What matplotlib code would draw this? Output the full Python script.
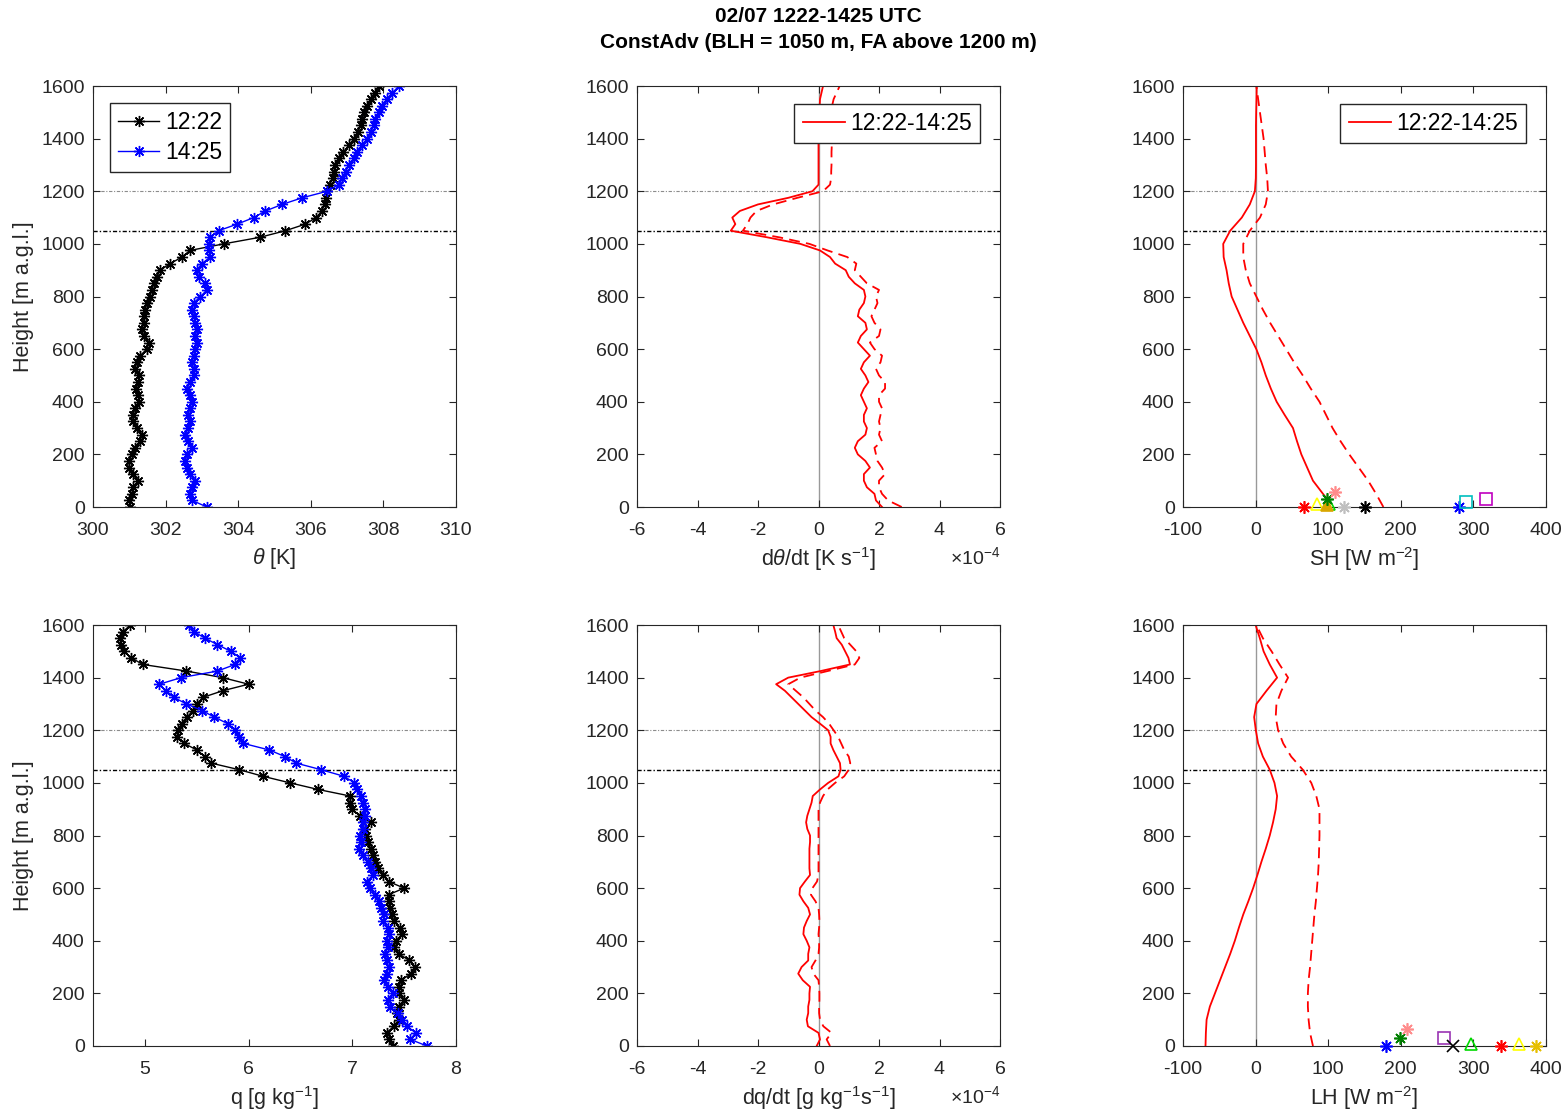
import matplotlib
matplotlib.use("Agg")
import matplotlib.pyplot as plt
import numpy as np

plt.rcParams['font.family'] = ['Liberation Sans', 'DejaVu Sans']
plt.rcParams['mathtext.fontset'] = 'custom'
plt.rcParams['mathtext.rm'] = 'Liberation Sans'
plt.rcParams['mathtext.it'] = 'Liberation Sans:italic'
plt.rcParams['mathtext.bf'] = 'Liberation Sans:bold'
plt.rcParams['axes.unicode_minus'] = False

# ---- data -------------------------------------------------------------
# profile levels [m a.g.l.]
height = [0, 25, 50, 75, 100, 125, 150, 175,
          200, 225, 250, 275, 300, 325, 350, 375,
          400, 425, 450, 475, 500, 525, 550, 575,
          600, 625, 650, 675, 700, 725, 750, 775,
          800, 825, 850, 875, 900, 925, 950, 975,
          1000, 1025, 1050, 1075, 1100, 1125, 1150, 1175,
          1200, 1225, 1250, 1275, 1300, 1325, 1350, 1375,
          1400, 1425, 1450, 1475, 1500, 1525, 1550, 1575,
          1600]

theta_1222 = [301.02, 301.00, 301.07, 301.10, 301.25, 301.10, 301.00, 301.00,
              301.07, 301.16, 301.30, 301.34, 301.20, 301.10, 301.10, 301.16,
              301.28, 301.25, 301.19, 301.25, 301.28, 301.16, 301.20, 301.30,
              301.48, 301.53, 301.40, 301.34, 301.40, 301.40, 301.44, 301.48,
              301.56, 301.62, 301.67, 301.76, 301.85, 302.13, 302.45, 302.67,
              303.60, 304.60, 305.30, 305.85, 306.15, 306.30, 306.38, 306.42,
              306.45, 306.52, 306.60, 306.63, 306.68, 306.78, 306.90, 307.05,
              307.20, 307.30, 307.37, 307.42, 307.47, 307.55, 307.65, 307.76,
              307.88]
theta_1425 = [303.14, 302.73, 302.68, 302.73, 302.82, 302.68, 302.59, 302.54,
              302.59, 302.73, 302.63, 302.54, 302.63, 302.68, 302.63, 302.66,
              302.73, 302.68, 302.59, 302.68, 302.77, 302.77, 302.73, 302.77,
              302.82, 302.86, 302.82, 302.86, 302.82, 302.77, 302.73, 302.77,
              302.96, 303.14, 303.09, 302.91, 302.86, 303.00, 303.23, 303.19,
              303.19, 303.23, 303.46, 303.97, 304.43, 304.75, 305.21, 305.76,
              306.45, 306.78, 306.87, 306.96, 307.05, 307.19, 307.28, 307.42,
              307.56, 307.65, 307.74, 307.78, 307.88, 307.97, 308.11, 308.25,
              308.43]

# dtheta/dt [1e-4 K s-1]
dthdt = [2.10, 1.90, 1.85, 1.60, 1.50, 1.50, 1.70, 1.55,
         1.30, 1.20, 1.30, 1.55, 1.60, 1.50, 1.50, 1.60,
         1.50, 1.40, 1.50, 1.65, 1.55, 1.40, 1.50, 1.70,
         1.50, 1.30, 1.40, 1.60, 1.55, 1.30, 1.35, 1.50,
         1.55, 1.50, 1.20, 1.00, 0.90, 0.55, 0.38, 0.05,
         -0.60, -1.70, -2.90, -2.75, -2.85, -2.60, -2.00, -1.00,
         -0.20, 0.00, 0.00, 0.00, 0.00, 0.00, 0.00, 0.00,
         0.00, 0.00, 0.00, 0.02, 0.03, 0.04, 0.05, 0.10,
         0.15]
dthdt_dash = [2.75, 2.30, 2.10, 2.00, 2.00, 2.20, 2.10, 1.95,
              1.90, 1.85, 2.10, 2.00, 2.05, 2.00, 2.05, 2.10,
              2.00, 2.00, 2.20, 2.20, 2.00, 1.90, 2.05, 2.10,
              1.85, 1.70, 2.00, 2.05, 1.85, 1.75, 1.85, 1.95,
              1.90, 2.00, 1.60, 1.40, 1.20, 1.25, 0.95, 0.30,
              -0.30, -1.30, -2.50, -2.35, -2.25, -2.05, -1.50, -0.70,
              0.15, 0.38, 0.42, 0.42, 0.43, 0.43, 0.43, 0.44,
              0.44, 0.44, 0.45, 0.45, 0.45, 0.45, 0.50, 0.60,
              0.70]

q_1222 = [7.39, 7.35, 7.33, 7.40, 7.45, 7.43, 7.45, 7.50,
          7.45, 7.45, 7.47, 7.57, 7.60, 7.55, 7.45, 7.40,
          7.42, 7.48, 7.46, 7.40, 7.38, 7.36, 7.35, 7.35,
          7.50, 7.35, 7.30, 7.25, 7.22, 7.20, 7.18, 7.15,
          7.13, 7.12, 7.18, 7.07, 7.00, 6.98, 6.98, 6.67,
          6.40, 6.14, 5.91, 5.64, 5.58, 5.50, 5.38, 5.31,
          5.32, 5.36, 5.41, 5.46, 5.50, 5.56, 5.75, 6.00,
          5.75, 5.40, 4.98, 4.87, 4.80, 4.77, 4.76, 4.79,
          4.86]
q_1425 = [7.72, 7.56, 7.61, 7.53, 7.48, 7.44, 7.36, 7.34,
          7.39, 7.34, 7.31, 7.33, 7.35, 7.33, 7.32, 7.34,
          7.33, 7.35, 7.34, 7.30, 7.31, 7.28, 7.26, 7.22,
          7.17, 7.14, 7.20, 7.18, 7.15, 7.10, 7.06, 7.08,
          7.07, 7.10, 7.10, 7.12, 7.12, 7.10, 7.08, 7.05,
          7.02, 6.92, 6.70, 6.46, 6.35, 6.20, 5.95, 5.91,
          5.87, 5.80, 5.67, 5.55, 5.40, 5.28, 5.20, 5.14,
          5.35, 5.70, 5.87, 5.92, 5.83, 5.70, 5.58, 5.47,
          5.43]

# dq/dt [1e-4 g kg-1 s-1]
dqdt = [-0.06, 0.05, 0.00, -0.35, -0.39, -0.34, -0.34, -0.30,
        -0.30, -0.28, -0.52, -0.67, -0.56, -0.34, -0.34, -0.30,
        -0.39, -0.50, -0.48, -0.39, -0.28, -0.34, -0.50, -0.63,
        -0.61, -0.45, -0.28, -0.30, -0.30, -0.30, -0.30, -0.28,
        -0.28, -0.37, -0.41, -0.37, -0.30, -0.23, -0.19, 0.05,
        0.32, 0.66, 0.73, 0.71, 0.60, 0.49, 0.40, 0.40,
        0.32, 0.05, -0.23, -0.45, -0.67, -0.89, -1.11, -1.40,
        -1.00, 0.07, 1.04, 0.99, 0.88, 0.77, 0.60, 0.55,
        0.49]
dqdt_dash = [0.38, 0.27, 0.43, 0.16, 0.05, 0.02, 0.02, 0.03,
             0.03, 0.02, 0.00, -0.17, -0.23, -0.10, 0.00, 0.02,
             0.02, 0.00, 0.02, 0.03, 0.02, 0.00, -0.10, -0.25,
             -0.20, -0.05, 0.00, 0.00, 0.00, 0.00, 0.00, 0.00,
             0.00, 0.00, 0.00, 0.00, 0.00, 0.05, 0.15, 0.30,
             0.55, 0.85, 1.00, 1.05, 1.00, 0.85, 0.75, 0.65,
             0.50, 0.35, 0.15, -0.10, -0.30, -0.50, -0.75, -1.00,
             -0.60, 0.30, 1.20, 1.35, 1.25, 1.05, 0.85, 0.75,
             0.65]

# flux profiles [W m-2]
flux_height = [0, 50, 100, 150, 200, 250, 300, 350, 400, 450, 500,
               550, 600, 650, 700, 750, 800, 850, 900, 950, 1000,
               1050, 1100, 1150, 1200, 1250, 1300, 1350, 1400, 1450,
               1500, 1550, 1600]
sh_solid_height = [35, 100, 150, 200, 250, 300, 350, 400, 450, 500,
                   550, 600, 650, 700, 750, 800, 850, 900, 950, 1000,
                   1050, 1100, 1150, 1200, 1250, 1300, 1350, 1400, 1450,
                   1500, 1550, 1600]
sh = [97, 79, 71, 63, 57, 51.5, 40, 29, 21, 14,
      8, 1, -8, -17, -25, -33, -37, -40, -44, -44.6,
      -35, -19, -8, -1, 0.3, 0.5, 0.5, 0.5, 0.5,
      0.8, 1.2, 1.5]
sh_dash = [176, 166, 155, 142, 129, 117, 106, 97, 88, 76, 65,
           53, 42, 31, 20, 10, 1, -8, -13.5, -17, -17,
           -8, 6, 14, 17, 16, 14, 12.5, 11, 8.5,
           6, 3.5, 1]
lh = [-69, -68.5, -67.5, -63, -56, -49, -42, -35, -28.6, -23, -17,
      -10, -3.4, 2.5, 8, 14, 19.5, 24, 27.7, 29.6, 26,
      19.5, 10, 3.5, 0.3, -2, 1.2, 15, 29.6, 19.5,
      11, 5.8, 0]
lh_dash = [79, 75, 73, 72, 72, 73, 75, 76.5, 78, 79.5, 81,
           83, 84.5, 86, 87, 87.5, 88, 88, 88, 83.6, 76.7,
           65, 49, 38, 31, 27.7, 28.7, 35.5, 44.7, 33,
           22, 10, 1]

# surface observations (flux value, height of symbol)
sh_obs = [67, 84, 101, 99, 99, 109, 122, 150, 280, 290, 317]
sh_obs_h = [0, 10, 10, 8, 30, 58, 0, 0, 0, 20, 30]
lh_obs = [180, 199, 208, 260, 272, 297, 338, 363, 386]
lh_obs_h = [0, 29, 63, 29, 0, 8, 0, 8, 0]

blh = 1050
fa_base = 1200

# ---- styles ------------------------------------------------------------
AST = (8, 2, 0)
sh_obs_style = [('r', AST, 'full'), ('yellow', '^', 'none'), ((0, 0.85, 0), '^', 'none'),
                ((0.85, 0.65, 0), '^', 'full'), ((0, 0.5, 0), AST, 'full'),
                ((1, 0.55, 0.55), AST, 'full'), ((0.75, 0.75, 0.75), AST, 'full'),
                ('k', AST, 'full'), ('b', AST, 'full'), ('c', 's', 'none'), ('m', 's', 'none')]
lh_obs_style = [('b', AST, 'full'), ((0, 0.5, 0), AST, 'full'), ((1, 0.55, 0.55), AST, 'full'),
                ((0.6, 0.2, 0.7), 's', 'none'), ('k', 'x', 'full'), ((0, 0.85, 0), '^', 'none'),
                ('r', AST, 'full'), ('yellow', '^', 'none'), ((0.9, 0.75, 0), AST, 'full')]

W, H = 1568, 1119
fig = plt.figure(figsize=(W / 100, H / 100), dpi=100)

col_left = [93, 637, 1183]
ax_w = 363
row_top = [86, 625]
ax_h = 421
axes = []
for r in range(2):
    row = []
    for c in range(3):
        ax = fig.add_axes([col_left[c] / W, 1 - (row_top[r] + ax_h) / H, ax_w / W, ax_h / H])
        row.append(ax)
    axes.append(row)

frame_col = '0.15'


def style_axis(ax, xlim, xticks, xlabel, ylabel=None):
    ax.set_xlim(xlim)
    ax.set_ylim(0, 1600)
    ax.set_xticks(xticks)
    ax.set_yticks(range(0, 1601, 200))
    ax.tick_params(direction='in', top=True, right=True, length=5, width=0.8,
                   labelsize=14, colors=frame_col, labelcolor=frame_col)
    ax.tick_params(axis='x', pad=10.5)
    ax.tick_params(axis='y', pad=6)
    for s in ax.spines.values():
        s.set_color(frame_col)
        s.set_linewidth(0.8)
    ax.axhline(fa_base, color='0.55', lw=0.8, ls=(0, (3, 1.5, 1, 1.5)), zorder=1)
    ax.axhline(blh, color='k', lw=1.0, ls=(0, (3, 1.5, 1, 1.5)), zorder=1)
    ax.set_xlabel(xlabel, fontsize=15.5, color=frame_col, labelpad=5)
    if ylabel:
        ax.set_ylabel(ylabel, fontsize=15.5, color=frame_col, labelpad=5)


red = (1, 0, 0)
dash = (0, (6, 3.5))
leg_kw = dict(borderaxespad=0, fontsize=16.5, fancybox=False, edgecolor=frame_col,
              framealpha=1, borderpad=0.35, handletextpad=0.25)

# theta
ax = axes[0][0]
ax.plot(theta_1222, height, '-', color='k', lw=1, marker=AST, ms=8, mew=1, label='12:22')
ax.plot(theta_1425, height, '-', color='b', lw=1, marker=AST, ms=8, mew=1, label='14:25')
style_axis(ax, (300, 310), range(300, 311, 2), r'$\theta$ [K]', 'Height [m a.g.l.]')
ax.legend(loc='upper left', bbox_to_anchor=(0.047, 0.96), handlelength=1.8,
          labelspacing=0.3, **leg_kw)

# dtheta/dt
ax = axes[0][1]
ax.axvline(0, color='0.6', lw=1, zorder=1)
ax.plot(dthdt, height, color=red, lw=1.3, label='12:22-14:25')
ax.plot(dthdt_dash, height, color=red, lw=1.3, ls=dash)
style_axis(ax, (-6, 6), range(-6, 7, 2), r'd$\theta$/dt [K s$^{-1}$]')
ax.text(1.0, -0.118, r'$\times10^{-4}$', transform=ax.transAxes, ha='right', va='center',
        fontsize=14, color=frame_col)

# SH
ax = axes[0][2]
ax.axvline(0, color='0.6', lw=1, zorder=1)
ax.plot(sh, sh_solid_height, color=red, lw=1.3, label='12:22-14:25')
ax.plot(sh_dash, flux_height, color=red, lw=1.3, ls=dash)
for v, hh, (c, m, f) in zip(sh_obs, sh_obs_h, sh_obs_style):
    ax.plot(v, hh, marker=m, color=c, fillstyle=f, ms=9, mew=1.2, ls='none', clip_on=False, zorder=5)
style_axis(ax, (-100, 400), range(-100, 401, 100), r'SH [W m$^{-2}$]')

for ax in (axes[0][1], axes[0][2]):
    ax.legend(loc='upper right', bbox_to_anchor=(0.946, 0.958), handlelength=1.85, **leg_kw)

# q
ax = axes[1][0]
ax.plot(q_1222, height, '-', color='k', lw=1, marker=AST, ms=8, mew=1)
ax.plot(q_1425, height, '-', color='b', lw=1, marker=AST, ms=8, mew=1)
style_axis(ax, (4.5, 8), [5, 6, 7, 8], r'q [g kg$^{-1}$]', 'Height [m a.g.l.]')

# dq/dt
ax = axes[1][1]
ax.axvline(0, color='0.6', lw=1, zorder=1)
ax.plot(dqdt, height, color=red, lw=1.3)
ax.plot(dqdt_dash, height, color=red, lw=1.3, ls=dash)
style_axis(ax, (-6, 6), range(-6, 7, 2), r'dq/dt [g kg$^{-1}$s$^{-1}$]')
ax.text(1.0, -0.118, r'$\times10^{-4}$', transform=ax.transAxes, ha='right', va='center',
        fontsize=14, color=frame_col)

# LH
ax = axes[1][2]
ax.axvline(0, color='0.6', lw=1, zorder=1)
ax.plot(lh, flux_height, color=red, lw=1.3)
ax.plot(lh_dash, flux_height, color=red, lw=1.3, ls=dash)
for v, hh, (c, m, f) in zip(lh_obs, lh_obs_h, lh_obs_style):
    ax.plot(v, hh, marker=m, color=c, fillstyle=f, ms=9, mew=1.2, ls='none', clip_on=False, zorder=5)
style_axis(ax, (-100, 400), range(-100, 401, 100), r'LH [W m$^{-2}$]')

title_x = (col_left[1] + ax_w / 2) / W
fig.text(title_x, 1 - 17 / H, '02/07 1222-1425 UTC', ha='center', va='center',
         fontsize=15, fontweight='bold', color='k')
fig.text(title_x, 1 - 43 / H, 'ConstAdv (BLH = 1050 m, FA above 1200 m)', ha='center', va='center',
         fontsize=15, fontweight='bold', color='k')

fig.savefig('out.png', dpi=100, facecolor='white')
